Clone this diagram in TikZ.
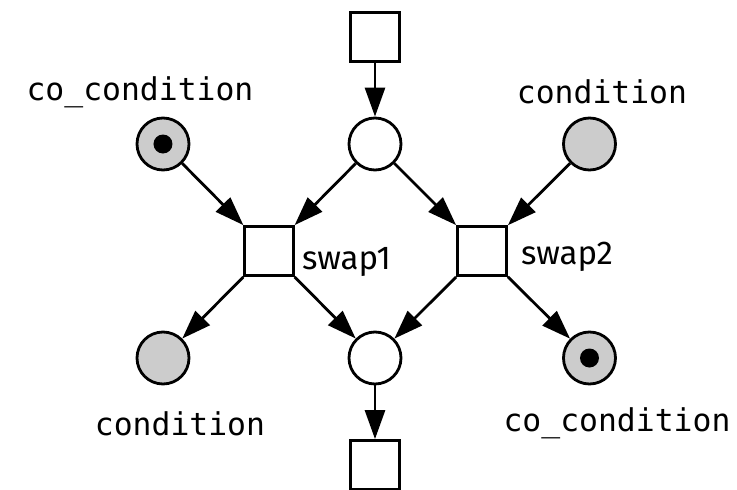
\documentclass[tikz,border=0pt]{standalone}
\usepackage{fontspec}
\setmonofont{DejaVu Sans Mono}
\setsansfont{Fira Sans}
\usetikzlibrary{arrows.meta}

\begin{document}
\begin{tikzpicture}

              % Definitions
              \tikzstyle{Place} = [circle, minimum size=52pt, inner sep=0pt, line width=2.8pt, draw=black, fill=white]
              \tikzstyle{Marked} = [fill=black!20]
              \tikzstyle{Trans} = [rectangle, minimum size=49pt, inner sep=0pt, line width=2.8pt, draw=black, fill=white]
              \tikzstyle{Token} = [circle, minimum size=19pt, inner sep=0pt, fill=black]
              \tikzstyle{Tag} = [inner sep=0pt, anchor=base, font=\ttfamily\fontsize{31.4}{36}\selectfont]
              \tikzstyle{Name} = [inner sep=0pt, anchor=base west, font=\sffamily\fontsize{33}{38}\selectfont]
              \tikzstyle{arrow} = [line width=2.8pt, -{Triangle[length=29pt, width=20pt]}]

              \useasboundingbox (-375pt,37pt) rectangle (362pt,-453pt);

              \begin{scope}[node distance=107pt]
              \node (Tin) [Trans] {};
              \node (Pin) [Place, below of=Tin] {};
              \node (S1) [Trans, below of=Pin, xshift=-106pt] {};
              \node (S2) [Trans, below of=Pin, xshift=107pt] {};
              \node (CoA) [Place, Marked, left of=Pin, xshift=-105pt] {};
              \node (CA) [Place, Marked, right of=Pin, xshift=107.5pt] {};
              \node (Pout) [Place, below of=Pin, yshift=-107pt] {};
              \node (CB) [Place, Marked, left of=Pout, xshift=-105pt] {};
              \node (CoB) [Place, Marked, right of=Pout, xshift=107.5pt] {};
              \node (Tout) [Trans, below of=Pout] {};
              \end{scope}

              \node (dotA) [Token] at (CoA) {};
              \node (dotB) [Token] at (CoB) {};

              \node (tCoA) [Tag, xshift=-23pt, yshift=44pt] at (CoA) {co\_condition};
              \node (tCA) [Tag, xshift=12.5pt, yshift=41pt] at (CA) {condition};
              \node (tCB) [Tag, xshift=17pt, yshift=-77pt] at (CB) {condition};
              \node (tCoB) [Tag, xshift=27.5pt, yshift=-73pt] at (CoB) {co\_condition};
              \node (tS1) [Name, xshift=33pt, yshift=-18pt] at (S1) {swap1};
              \node (tS2) [Name, xshift=39pt, yshift=-13pt] at (S2) {swap2};

              \draw [arrow] (Tin) -- (Pin);
              \draw [arrow] (Pin) -- (S1);
              \draw [arrow] (Pin) -- (S2);
              \draw [arrow] (CoA) -- (S1);
              \draw [arrow] (CA) -- (S2);
              \draw [arrow] (S1) -- (CB);
              \draw [arrow] (S1) -- (Pout);
              \draw [arrow] (S2) -- (Pout);
              \draw [arrow] (S2) -- (CoB);
              \draw [arrow] (Pout) -- (Tout);

\end{tikzpicture}
\end{document}
